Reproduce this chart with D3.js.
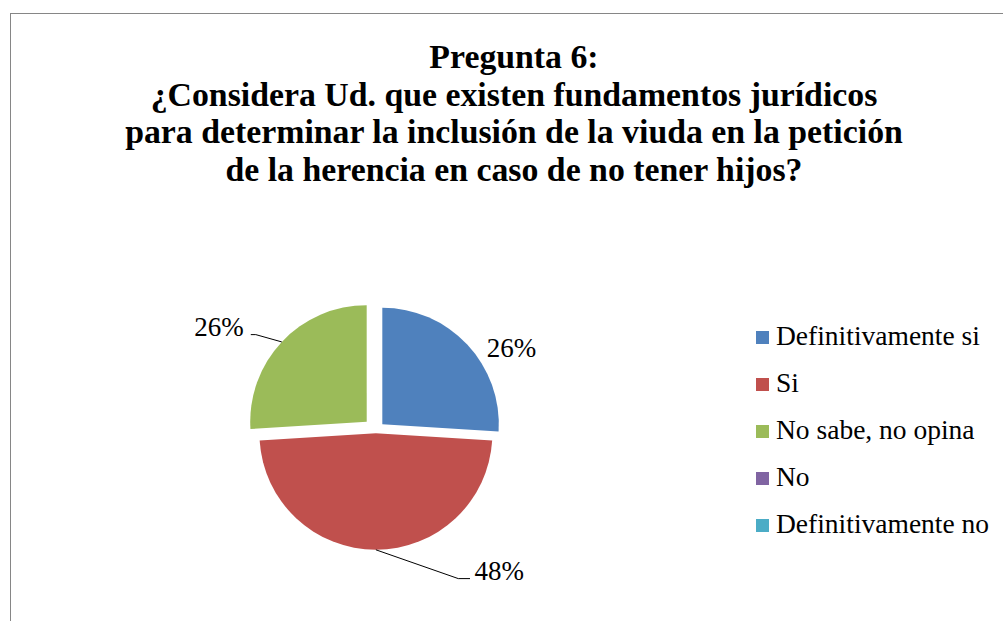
<!DOCTYPE html>
<html>
<head>
<meta charset="utf-8">
<script src="https://cdn.jsdelivr.net/npm/d3@7"></script>
<style>
    body { margin: 0; background: #fff; }
    svg text { font-family: "Liberation Serif", "Times New Roman", serif; fill: #000; }
</style>
</head>
<body>
<div id="chart"></div>
<script>
// datos del gráfico
const categories = ["Definitivamente si", "Si", "No sabe, no opina", "No", "Definitivamente no"];
const values = [26, 48, 26, 0, 0];
const colors = ["#4F81BD", "#C0504D", "#9BBB59", "#8064A2", "#4BACC6"];
const titleLines = [
    "Pregunta 6:",
    "¿Considera Ud. que existen fundamentos jurídicos",
    "para determinar la inclusión de la viuda en la petición",
    "de la herencia en caso de no tener hijos?"
];

const width = 1003;
const height = 621;

const svg = d3.select("#chart")
    .append("svg")
    .attr("width", width)
    .attr("height", height)
    .attr("font-family", "Liberation Serif, Times New Roman, serif");

// marco (recortado a la derecha y abajo)
svg.append("rect")
    .attr("x", 10.5)
    .attr("y", 13.5)
    .attr("width", 1100)
    .attr("height", 700)
    .attr("fill", "#fff")
    .attr("stroke", "#868686")
    .attr("stroke-width", 1);

// título
const title = svg.append("text")
    .attr("text-anchor", "middle")
    .attr("font-size", "33.8px")
    .attr("font-weight", "bold");

titleLines.forEach((line, i) => {
    title.append("tspan")
        .attr("x", 514)
        .attr("y", 68 + i * 37.6)
        .text(line);
});

// pie
const cx = 375.9, cy = 430.3, radius = 116.5;
// separación de cada porción (explosión)
const explode = [8.8, 3, 12.6, 0, 0];

const pie = d3.pie()
    .sort(null)
    .value((d) => d);

const arcs = pie(values);

const arc = d3.arc()
    .innerRadius(0)
    .outerRadius(radius);

const pieG = svg.append("g")
    .attr("transform", `translate(${cx}, ${cy})`);

const offsetOf = (d, i) => {
    const mid = (d.startAngle + d.endAngle) / 2;
    return [Math.sin(mid) * explode[i], -Math.cos(mid) * explode[i]];
};

pieG.selectAll("path.slice")
    .data(arcs)
    .enter()
    .append("path")
    .attr("class", "slice")
    .attr("d", arc)
    .attr("transform", (d, i) => {
        const o = offsetOf(d, i);
        return `translate(${o[0]}, ${o[1]})`;
    })
    .attr("fill", (d, i) => colors[i]);

// etiquetas de porcentaje
const total = d3.sum(values);
const fmt = d3.format(".0%");

// posición de cada etiqueta respecto al borde de la porción
const labelLayout = [
    { leader: null, dx: 19.5, dy: 12.2, anchor: "start" },
    { leader: [[82.4, 28.8], [94.1, 28.8]], dx: 4.5, dy: 1, anchor: "start" },
    { leader: [[-26, -7.3], [-31, -7.3]], dx: -7, dy: 1, anchor: "end" }
];

const edgeArc = d3.arc()
    .innerRadius(radius)
    .outerRadius(radius);

arcs.forEach((d, i) => {
    if (d.data === 0)
        return;

    const o = offsetOf(d, i);
    const c = edgeArc.centroid(d);
    const start = [c[0] + o[0], c[1] + o[1]];
    const layout = labelLayout[i];

    let anchorPt = start;
    if (layout.leader)
    {
        const pts = [start].concat(layout.leader.map((p) => [start[0] + p[0], start[1] + p[1]]));
        pieG.append("path")
            .attr("d", d3.line()(pts))
            .attr("fill", "none")
            .attr("stroke", "#000")
            .attr("stroke-width", 1);
        anchorPt = pts[pts.length - 1];
    }

    pieG.append("text")
        .attr("x", anchorPt[0] + layout.dx)
        .attr("y", anchorPt[1] + layout.dy)
        .attr("text-anchor", layout.anchor)
        .attr("font-size", "27px")
        .text(fmt(d.data / total));
});

// leyenda
const legendY = d3.scalePoint()
    .domain(categories)
    .range([345, 533]);

const legend = svg.append("g")
    .attr("class", "legend");

const item = legend.selectAll("g.item")
    .data(categories)
    .enter()
    .append("g")
    .attr("class", "item")
    .attr("transform", (d) => `translate(756, ${legendY(d)})`);

item.append("rect")
    .attr("x", 0)
    .attr("y", -14)
    .attr("width", 13)
    .attr("height", 13)
    .attr("fill", (d, i) => colors[i]);

item.append("text")
    .attr("x", 20)
    .attr("y", 0)
    .attr("font-size", "27.5px")
    .text((d) => d);
</script>
</body>
</html>
